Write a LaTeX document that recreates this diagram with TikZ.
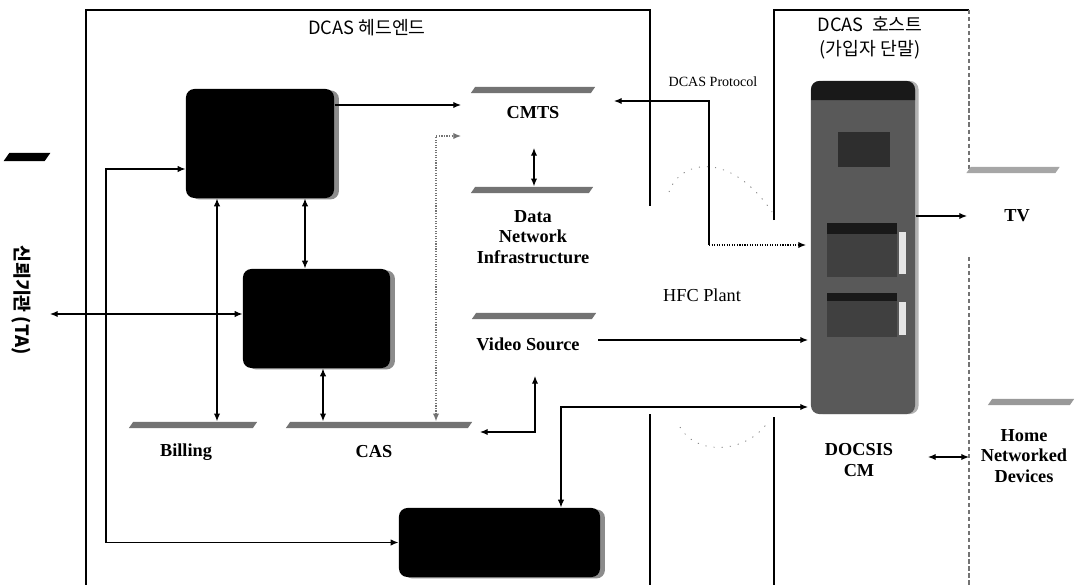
\documentclass[tikz,border=0pt]{standalone}
\usepackage{fontspec}
\setmainfont{Liberation Serif}
\newfontfamily\kfont{Noto Sans CJK KR}
\usetikzlibrary{arrows.meta,shadows}

\begin{document}
\begin{tikzpicture}[>={Latex[length=5.5pt,width=4.5pt]}, x=0.025cm, y=-0.025cm, line width=.8pt,
  darkbox/.style={fill=black, rounded corners=6pt, inner sep=0pt, drop shadow={shadow xshift=3.5pt, shadow yshift=-1pt, fill=black!45, opacity=1}},
  plate/.style={rectangle, xslant=0.7, fill=black!55, inner sep=0pt, minimum height=4.5pt},
  lbl/.style={font=\fontsize{13}{14.5}\selectfont\bfseries, align=center},
  ttl/.style={font=\kfont\fontsize{13}{17}\selectfont, align=center}]
\useasboundingbox (0,0) rectangle (1078,585);
\draw[line width=1pt] (86,585) -- (86,10) -- (650,10) -- (650,206);
\draw[line width=1pt] (650,414) -- (650,585);
\draw[line width=1pt] (774,220) -- (774,10) -- (969,10);
\draw[line width=1pt] (774,417) -- (774,585);
\draw[black!55, densely dashed] (969,10) -- (969,170) (969,257) -- (969,585);
\node[ttl] (headtitle) at (367,28) {DCAS 헤드엔드};
\node[ttl] (hosttitle) at (870,38) {DCAS\ \ 호스트\\(가입자 단말)};
\node[darkbox, minimum width=3.7cm, minimum height=2.725cm] (srvtop) at (260,143.5) {};
\node[darkbox, minimum width=3.675cm, minimum height=2.475cm] (srvmid) at (316.5,318.5) {};
\node[darkbox, minimum width=5.025cm, minimum height=1.725cm] (srvbot) at (499.5,542.5) {};
\node[fill=black!65, rounded corners=6pt, minimum width=2.6cm, minimum height=8.325cm, drop shadow={shadow xshift=2.5pt, shadow yshift=0pt, fill=black!30, opacity=1}] (host) at (863,247.5) {};
\fill[black!90] (811,100) [rounded corners=6pt] -- (811,81) -- (915,81) [sharp corners] -- (915,100) -- cycle;
\fill[black!82] (838,132) rectangle (890,167);
\fill[black!75] (827,223) rectangle (897,277);
\fill[black!90] (827,223) rectangle (897,234);
\fill[black!10] (899,232) rectangle (906,274);
\fill[black!75] (827,293) rectangle (897,337);
\fill[black!90] (827,293) rectangle (897,301);
\fill[black!10] (899,302) rectangle (906,335);
\node[plate, minimum width=3cm] (cmtsbar) at (533,90) {};
\node[plate, minimum width=2.95cm] (databar) at (532,190) {};
\node[plate, minimum width=3cm] (videobar) at (534,316) {};
\node[plate, minimum width=3.1cm] (billbar) at (193,425) {};
\node[plate, minimum width=4.55cm] (casbar) at (379,425) {};
\node[plate, minimum width=2.225cm, fill=black!35] (tvbar) at (1013,170) {};
\node[plate, minimum width=2.05cm, fill=black!40] (homebar) at (1031,402) {};
\node[plate, minimum width=1.025cm, minimum height=6pt, fill=black] (tabar) at (27,157) {};
\node[lbl] (cmts) at (533,113) {CMTS};
\node[lbl] (data) at (533,237) {Data\\Network\\Infrastructure};
\node[lbl] (video) at (528,344) {Video Source};
\node[lbl] (billing) at (186,452) {Billing};
\node[lbl] (cas) at (374,452) {CAS};
\node[lbl] (tv) at (1017,216) {TV};
\node[lbl] (docsis) at (859,460) {DOCSIS\\CM};
\node[lbl] (home) at (1024,456) {Home\\Networked\\Devices};
\node[font=\fontsize{10}{12}\selectfont] (proto) at (713,82) {DCAS Protocol};
\node[font=\fontsize{13}{15}\selectfont] (hfc) at (702,295) {HFC Plant};
\node[font=\kfont\bfseries\fontsize{13}{15}\selectfont, rotate=-90] (ta) at (21,300) {신뢰기관 (TA)};
\coordinate (cmtsin1) at (461,105);
\coordinate (cmtsin2) at (461,136);
\coordinate (casport) at (436,0);
\coordinate (cmtsport) at (534,148);
\coordinate (cmtsout) at (614,101);
\coordinate (protocorner) at (709,245);
\coordinate (hostin1) at (806,245);
\coordinate (videoout) at (598,340);
\coordinate (hostin2) at (808,340);
\coordinate (hostin3) at (808,407);
\coordinate (botport) at (561,407);
\coordinate (videoport) at (535,376);
\coordinate (casright) at (480,432);
\coordinate (billport) at (217,0);
\coordinate (abport) at (305,0);
\coordinate (bcport) at (323,0);
\coordinate (taport) at (50,314);
\coordinate (leftbus) at (106,169);
\coordinate (tvin) at (967,216);
\coordinate (docsisport) at (928,457);
\coordinate (homeport) at (969,457);
\draw[->] (srvtop.east |- cmtsin1) -- (cmtsin1);
\draw[<->, black!55, densely dotted] (casport |- casbar.north) |- (cmtsin2);
\draw[<->] (cmtsport) -- (cmtsport |- databar.north);
\draw[<-] (cmtsout) -| (protocorner);
\draw[->, densely dotted] (protocorner) -- (hostin1);
\draw[->] (videoout) -- (hostin2);
\draw[<->] (srvbot.north -| botport) |- (hostin3);
\draw[<->] (casright) -| (videoport);
\draw[<->] (srvtop.south -| billport) -- (billbar.north -| billport);
\draw[<->] (srvtop.south -| abport) -- (srvmid.north -| abport);
\draw[<->] (srvmid.south -| bcport) -- (casbar.north -| bcport);
\draw[<->] (taport) -- (srvmid.west |- taport);
\draw[<->] (srvtop.west |- leftbus) -- (leftbus) |- (srvbot.west);
\draw[->] (host.east |- tvin) -- (tvin);
\draw[<->] (docsisport) -- (homeport);
\draw[black!50, line width=.6pt, dash pattern=on .8pt off 5pt] (669,192) .. controls (680,160) and (730,150) .. (772,212);
\draw[black!50, line width=.6pt, dash pattern=on .8pt off 5pt] (680,427) .. controls (695,455) and (745,455) .. (768,422);
\end{tikzpicture}
\end{document}
